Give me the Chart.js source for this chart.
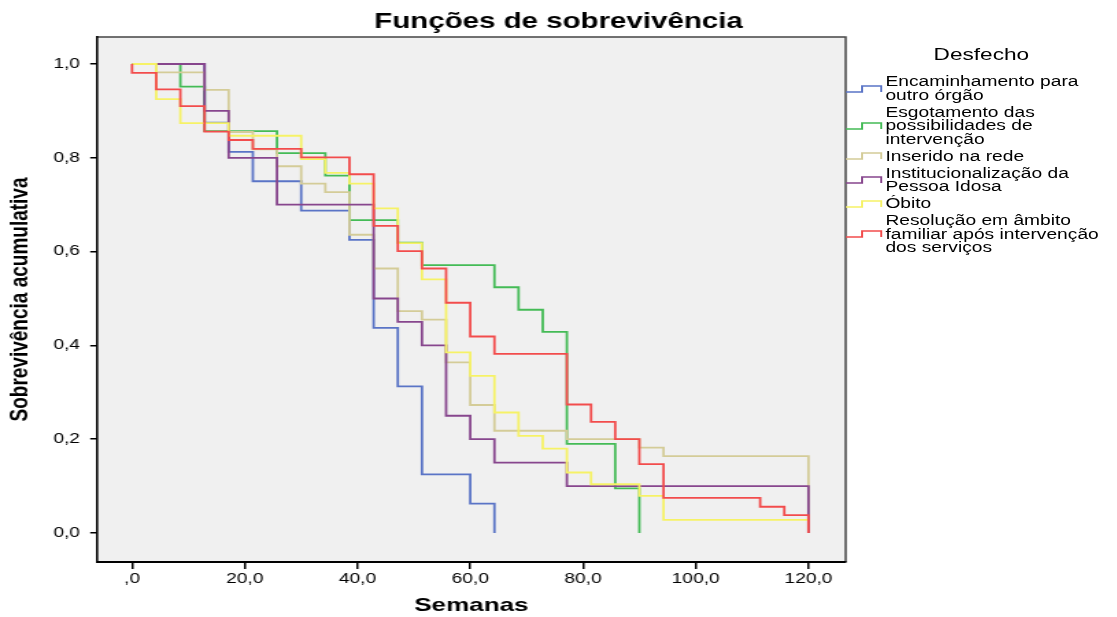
<!DOCTYPE html>
<html>
<head>
<meta charset="utf-8">
<script src="https://cdn.jsdelivr.net/npm/chart.js@4"></script>
<style>
  html, body { margin: 0; padding: 0; background: #fff; overflow: hidden; }
  /* the reference picture is stretched sideways, so the whole chart is drawn narrow and scaled */
  #wrap { position: relative; width: 815px; height: 617px; transform: scaleX(1.3706); transform-origin: 0 0; }
  #legend { position: absolute; left: 617px; top: 45px; width: 198px; font-family: 'Liberation Sans', Arial, sans-serif; color: #000; }
  #legend .title { text-align: center; font-size: 16.5px; line-height: 18px; height: 30px; }
  #legend .item { display: flex; align-items: center; margin-bottom: 3.5px; }
  #legend svg { flex: none; margin-right: 2px; }
  #legend .txt { font-size: 14px; line-height: 13.5px; white-space: pre-line; }
</style>
</head>
<body>
<div id="wrap">
  <canvas id="myChart" width="815" height="617"></canvas>
  <div id="legend"></div>
</div>
<script>
// Eixo X (semanas) e eixo Y (sobrevivência)
const xTickValues = [0, 20, 40, 60, 80, 100, 120];
const xTickLabels = [',0', '20,0', '40,0', '60,0', '80,0', '100,0', '120,0'];
const yTickValues = [0, 0.2, 0.4, 0.6, 0.8, 1.0];
const yTickLabels = ['0,0', '0,2', '0,4', '0,6', '0,8', '1,0'];

const seriesNames = [
  'Encaminhamento para\noutro órgão',
  'Esgotamento das\npossibilidades de\nintervenção',
  'Inserido na rede',
  'Institucionalização da\nPessoa Idosa',
  'Óbito',
  'Resolução em âmbito\nfamiliar após intervenção\ndos serviços'
];
const lineColors = ['#5a74c6', '#44bb56', '#d4cc98', '#87468d', '#f6f266', '#f24c4c'];

// Curvas de sobrevivência (semana do passo, valor depois do passo)
const encaminhamentoWeeks = [0, 12.86, 17.14, 21.43, 30, 38.57, 42.86, 47.14, 51.43, 60, 64.29];
const encaminhamentoSurv  = [1, 0.875, 0.8125, 0.75, 0.6875, 0.625, 0.4375, 0.3125, 0.125, 0.0625, 0];

const esgotamentoWeeks = [0, 8.57, 12.86, 25.71, 34.29, 38.57, 47.14, 51.43, 64.29, 68.57, 72.86, 77.14, 85.71, 90];
const esgotamentoSurv  = [1, 0.952, 0.857, 0.81, 0.762, 0.667, 0.619, 0.571, 0.524, 0.476, 0.429, 0.19, 0.095, 0];

const inseridoWeeks = [0, 4.29, 12.86, 17.14, 21.43, 25.71, 30, 34.29, 38.57, 42.86, 47.14, 51.43, 55.71, 60, 64.29, 77.14, 90, 94.29, 120];
const inseridoSurv  = [1, 0.982, 0.945, 0.855, 0.818, 0.782, 0.745, 0.727, 0.636, 0.564, 0.473, 0.455, 0.364, 0.273, 0.218, 0.2, 0.182, 0.164, 0];

const institucionalizacaoWeeks = [0, 12.86, 17.14, 25.71, 42.86, 47.14, 51.43, 55.71, 60, 64.29, 77.14, 120];
const institucionalizacaoSurv  = [1, 0.9, 0.8, 0.7, 0.5, 0.45, 0.4, 0.25, 0.2, 0.15, 0.1, 0];

const obitoWeeks = [0, 4.29, 8.57, 17.14, 30, 34.29, 38.57, 42.86, 47.14, 51.43, 55.71, 60, 64.29, 68.57, 72.86, 77.14, 81.43, 90, 94.29, 120];
const obitoSurv  = [1, 0.925, 0.874, 0.847, 0.797, 0.768, 0.745, 0.692, 0.618, 0.541, 0.385, 0.335, 0.257, 0.207, 0.18, 0.129, 0.104, 0.079, 0.028, 0.028];

const resolucaoWeeks = [0, 0, 4.29, 8.57, 12.86, 17.14, 21.43, 30, 38.57, 42.86, 47.14, 51.43, 55.71, 60, 64.29, 77.14, 81.43, 85.71, 90, 94.29, 111.43, 115.71, 120];
const resolucaoSurv  = [1, 0.981, 0.946, 0.91, 0.856, 0.838, 0.819, 0.801, 0.765, 0.655, 0.601, 0.564, 0.491, 0.419, 0.382, 0.274, 0.237, 0.2, 0.147, 0.075, 0.056, 0.038, 0];

const series = [
  [encaminhamentoWeeks, encaminhamentoSurv],
  [esgotamentoWeeks, esgotamentoSurv],
  [inseridoWeeks, inseridoSurv],
  [institucionalizacaoWeeks, institucionalizacaoSurv],
  [obitoWeeks, obitoSurv],
  [resolucaoWeeks, resolucaoSurv]
];

Chart.defaults.font.family = "'Liberation Sans', Arial, sans-serif";
Chart.defaults.color = '#000';

const datasets = series.map((s, i) => ({
  label: seriesNames[i],
  data: s[0].map((w, j) => ({ x: w, y: s[1][j] })),
  borderColor: lineColors[i],
  borderWidth: 1.8,
  pointRadius: 0,
  stepped: 'before',
  fill: false,
  order: series.length - i // o último da legenda fica por cima
}));

// fundo cinzento e moldura da área do gráfico
const plotFrame = {
  id: 'plotFrame',
  beforeDraw(chart) {
    const { ctx, chartArea: a } = chart;
    ctx.save();
    ctx.fillStyle = '#f0f0f0';
    ctx.fillRect(a.left, a.top, a.right - a.left, a.bottom - a.top);
    ctx.strokeStyle = '#444';
    ctx.lineWidth = 1.5;
    ctx.beginPath();
    ctx.moveTo(a.left, a.top);
    ctx.lineTo(a.right, a.top);
    ctx.lineTo(a.right, a.bottom);
    ctx.stroke();
    ctx.restore();
  }
};

new Chart(document.getElementById('myChart'), {
  type: 'line',
  data: { datasets },
  options: {
    responsive: false,
    animation: false,
    devicePixelRatio: 1,
    layout: { padding: 0 },
    plugins: {
      legend: { display: false },
      tooltip: { enabled: false },
      title: {
        display: true,
        text: 'Funções de sobrevivência',
        font: { size: 21.5, weight: 'bold' },
        padding: { top: 9, bottom: 2.2 }
      }
    },
    scales: {
      x: {
        type: 'linear',
        min: -6.21,
        max: 126.6,
        afterBuildTicks: s => { s.ticks = xTickValues.map(v => ({ value: v })); },
        afterFit: s => { s.height = 55; },
        ticks: {
          autoSkip: false,
          maxRotation: 0,
          padding: 2,
          font: { size: 14 },
          callback: (v, i) => xTickLabels[i]
        },
        grid: { display: true, drawOnChartArea: false, drawTicks: true, tickLength: 7, color: '#000', lineWidth: 1.5 },
        border: { display: true, color: '#000', width: 2 },
        title: {
          display: true,
          text: 'Semanas',
          font: { size: 19, weight: 'bold' },
          padding: { top: 0, bottom: 0 }
        }
      },
      y: {
        type: 'linear',
        min: -0.0618,
        max: 1.0576,
        afterBuildTicks: s => { s.ticks = yTickValues.map(v => ({ value: v })); },
        afterFit: s => { s.width = 70.8; },
        ticks: {
          padding: 7.4,
          font: { size: 14 },
          callback: (v, i) => yTickLabels[i]
        },
        grid: { display: true, drawOnChartArea: false, drawTicks: true, tickLength: 5, color: '#000', lineWidth: 1.5 },
        border: { display: true, color: '#000', width: 1.6 },
        title: {
          display: true,
          text: 'Sobrevivência acumulativa',
          font: { size: 19, weight: 'bold' },
          padding: { top: 3, bottom: 0 }
        }
      },
      // espaço reservado para a legenda à direita
      legendSpace: {
        type: 'linear',
        position: 'right',
        display: true,
        afterFit: s => { s.width = 198; },
        ticks: { display: false },
        grid: { display: false },
        border: { display: false }
      }
    }
  },
  plugins: [plotFrame]
});

// Legenda "Desfecho"
const legend = document.getElementById('legend');
let html = '<div class="title">Desfecho</div>';
seriesNames.forEach((name, i) => {
  html += '<div class="item">' +
    '<svg width="27" height="8"><polyline points="0,7 12,7 12,1 26,1 26,7" fill="none" stroke="' + lineColors[i] + '" stroke-width="1.5"/></svg>' +
    '<div class="txt">' + name + '</div></div>';
});
legend.innerHTML = html;
</script>
</body>
</html>
